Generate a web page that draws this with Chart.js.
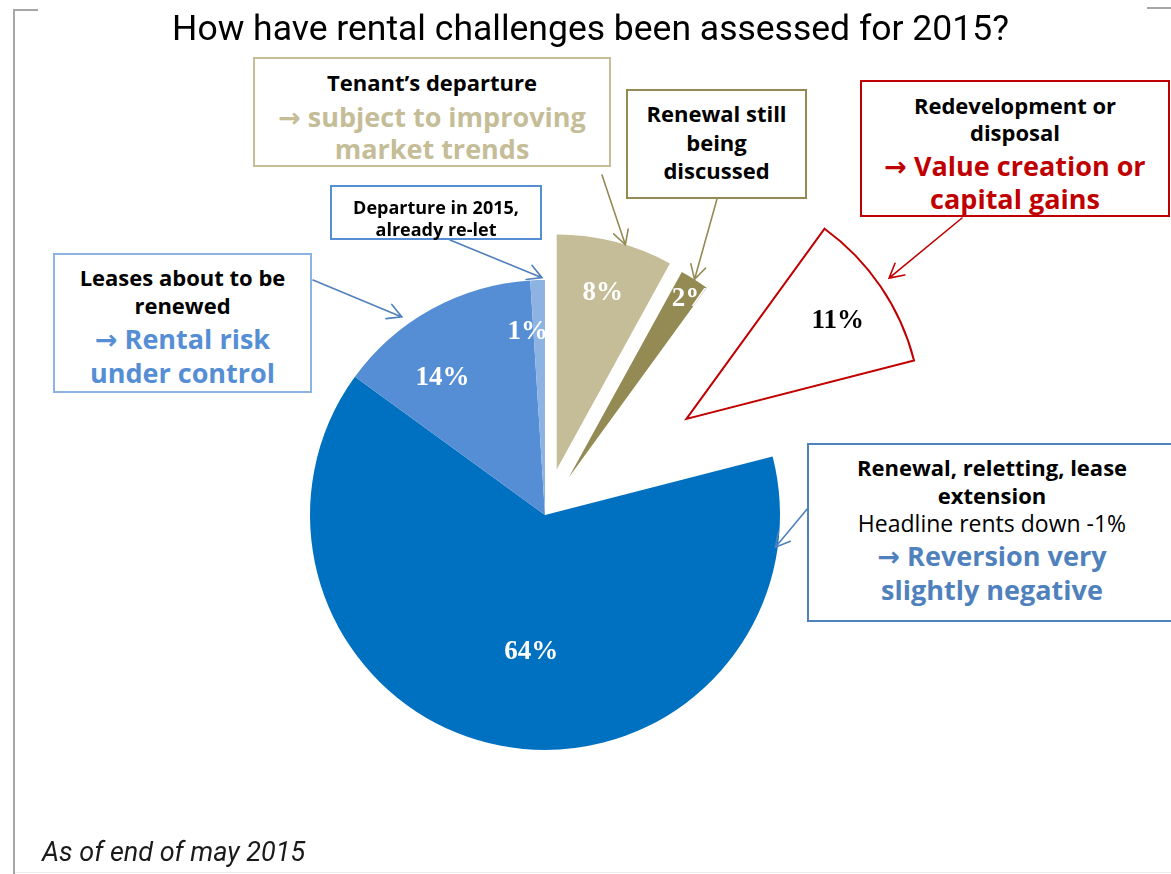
<!DOCTYPE html>
<html>
<head>
<meta charset="utf-8">
<title>How have rental challenges been assessed for 2015?</title>
<script src="https://cdn.jsdelivr.net/npm/chart.js@4.4.1/dist/chart.umd.min.js"></script>
<style>
  html, body { margin: 0; padding: 0; background: #fff; }
  #wrap { position: relative; width: 1171px; height: 874px; overflow: hidden; background: #fff; }
  #pie { position: absolute; left: 0; top: 0; }
  .rule { position: absolute; background: #a6a6a6; }
  #title {
    position: absolute; left: 90px; width: 1001px; top: 6px;
    text-align: center; white-space: nowrap;
    font-family: Roboto, "Noto Sans", sans-serif; font-size: 35.5px; line-height: 44px; color: #000;
  }
  #note {
    position: absolute; left: 42px; top: 835px; white-space: nowrap;
    font-family: Roboto, "Noto Sans", sans-serif; font-style: italic; font-size: 27px; line-height: 34px; color: #1a1a1a;
  }
  .box { position: absolute; box-sizing: border-box; border: 2px solid #000; background: #fff; }
  .line {
    position: absolute; left: 0; right: 0; text-align: center; white-space: nowrap;
    font-family: "Open Sans", "DejaVu Sans", sans-serif;
  }
</style>
</head>
<body>
<div id="wrap">
  <canvas id="pie" width="1171" height="874"></canvas>
  <div class="rule" style="left:13px;top:9px;width:2px;height:865px;"></div>
  <div class="rule" style="left:13px;top:9px;width:25px;height:2px;"></div>
  <div class="rule" style="left:1147px;top:7px;width:24px;height:2px;"></div>
  <div class="rule" style="left:15px;top:872px;width:1156px;height:1px;background:#ececec;"></div>
  <div id="title">How have rental challenges been assessed for 2015?</div>
  <div id="note">As of end of may 2015</div>
</div>
<script>
// ---- data -------------------------------------------------------------
const categories = [
  'Tenant’s departure',
  'Renewal still being discussed',
  'Redevelopment or disposal',
  'Renewal, reletting, lease extension',
  'Leases about to be renewed',
  'Departure in 2015, already re-let'
];
const shares = [8, 2, 11, 64, 14, 1];   // % of rental base

// ---- slice styling ------------------------------------------------------
const sliceFill        = ['#C4BD97', '#948A54', '#FFFFFF', '#0070C0', '#558ED5', '#8DB3E2'];
const sliceBorder      = ['#C4BD97', '#948A54', '#C00000', '#0070C0', '#558ED5', '#8DB3E2'];
const sliceBorderWidth = [0, 0, 2, 0, 0, 0];
const explodeBy        = [47, 44, 171, 0, 0, 0];          // px pulled out along the mid-angle
const labelColor       = ['#fff', '#fff', '#000', '#fff', '#fff', '#fff'];
// label placement: t = fraction across the slice angle, r = fraction of radius
const labelPlace = [
  { t: 0.51, r: 0.775 },
  { t: 0.80, r: 0.925 },
  { t: 0.535, r: 0.766 },
  { t: 0.478, r: 0.587 },
  { t: 0.341, r: 0.728 },
  { t: -0.50, r: 0.78 }
];

// ---- callout boxes -------------------------------------------------------
const TXT = {
  k:     'font-weight:700;font-size:22px;color:#000;',
  ks:    'font-weight:700;font-size:18px;color:#000;',
  kn:    'font-weight:400;font-size:23px;color:#000;',
  tan:   'font-weight:700;font-size:27px;color:#C4BD97;',
  red:   'font-weight:700;font-size:27px;color:#C00000;',
  blue:  'font-weight:700;font-size:27px;color:#558ED5;',
  blue2: 'font-weight:700;font-size:27px;color:#4F81BD;'
};
const callouts = [
  { rect: [253, 57, 611, 167], border: '#C4BD97', arrow: '#948A54', from: [602, 175], to: { i: 0, t: 0.59, r: 1.0 },
    lines: [['Tenant’s departure', 'k', 82], ['→ subject to improving', 'tan', 116], ['market trends', 'tan', 148]] },
  { rect: [626, 89, 807, 199], border: '#948A54', arrow: '#948A54', from: [717, 199], to: { i: 1, t: 0.5, r: 1.0 },
    lines: [['Renewal still', 'k', 113], ['being', 'k', 142], ['discussed', 'k', 170]] },
  { rect: [860, 80, 1170, 217], border: '#C00000', arrow: '#C00000', from: [962, 218], to: { i: 2, t: 0.485, r: 1.05 },
    lines: [['Redevelopment or', 'k', 105], ['disposal', 'k', 132], ['→ Value creation or', 'red', 165], ['capital gains', 'red', 198]] },
  { rect: [330, 185, 542, 240], border: '#558ED5', arrow: '#4F81BD', from: [450, 240], to: { i: 5, t: 0.8, r: 1.01 },
    lines: [['Departure in 2015,', 'ks', 207], ['already re-let', 'ks', 229]] },
  { rect: [53, 253, 312, 393], border: '#8DB3E2', arrow: '#4F81BD', from: [313, 280], to: { i: 4, t: 0.36, r: 1.04 },
    lines: [['Leases about to be', 'k', 277], ['renewed', 'k', 305], ['→ Rental risk', 'blue', 338], ['under control', 'blue', 372]] },
  { rect: [807, 443, 1177, 622], border: '#4F81BD', arrow: '#4F81BD', from: [808, 508], to: { i: 3, t: 0.097, r: 0.99 },
    lines: [['Renewal, reletting, lease', 'k', 467], ['extension', 'k', 495], ['Headline rents down -1%', 'kn', 523],
            ['→ Reversion very', 'blue2', 555], ['slightly negative', 'blue2', 589]] }
];

// build the boxes as positioned HTML text
const wrap = document.getElementById('wrap');
callouts.forEach(c => {
  const [x0, y0, x1, y1] = c.rect;
  const bw = 2;
  const box = document.createElement('div');
  box.className = 'box';
  box.style.cssText = `left:${x0}px;top:${y0}px;width:${x1 - x0}px;height:${y1 - y0}px;border-color:${c.border};`;
  c.lines.forEach(([text, kind, cy]) => {
    const fs = parseFloat(TXT[kind].match(/font-size:(\d+)/)[1]);
    const el = document.createElement('div');
    el.className = 'line';
    el.textContent = text;
    el.style.cssText = TXT[kind] + `line-height:${fs}px;height:${fs}px;top:${cy - y0 - bw - fs / 2}px;`;
    box.appendChild(el);
  });
  wrap.appendChild(box);
});

// ---- plugins -------------------------------------------------------------
// pull selected slices outward along their mid-angle
const explodePlugin = {
  id: 'explode',
  afterDatasetsUpdate(chart) {
    chart.getDatasetMeta(0).data.forEach((arc, i) => {
      const d = explodeBy[i] || 0;
      if (!d) return;
      const mid = (arc.startAngle + arc.endAngle) / 2;
      arc.x += Math.cos(mid) * d;
      arc.y += Math.sin(mid) * d;
    });
  }
};

function pointOnArc(arc, t, r) {
  const a = arc.startAngle + t * (arc.endAngle - arc.startAngle);
  const rad = r * arc.outerRadius;
  return [arc.x + Math.cos(a) * rad, arc.y + Math.sin(a) * rad];
}

// percentage labels, clipped at the trailing edge of narrow slices
const sliceLabelPlugin = {
  id: 'sliceLabels',
  afterDatasetsDraw(chart) {
    const ctx = chart.ctx;
    const arcs = chart.getDatasetMeta(0).data;
    arcs.forEach((arc, i) => {
      const p = labelPlace[i];
      const [x, y] = pointOnArc(arc, p.t, p.r);
      ctx.save();
      if (arc.circumference < Math.PI) {
        ctx.translate(arc.x, arc.y);
        ctx.rotate(arc.endAngle);
        ctx.beginPath();
        ctx.rect(-3000, -3000, 6000, 3000);
        ctx.clip();
        ctx.rotate(-arc.endAngle);
        ctx.translate(-arc.x, -arc.y);
      }
      ctx.font = 'bold 27px "Liberation Serif", "DejaVu Serif", serif';
      ctx.textAlign = 'center';
      ctx.textBaseline = 'middle';
      ctx.fillStyle = labelColor[i];
      ctx.fillText(shares[i] + '%', x, y);
      ctx.restore();
    });
  }
};

// leader lines with open arrowheads from each box to its slice
const calloutArrowPlugin = {
  id: 'calloutArrows',
  afterDraw(chart) {
    const ctx = chart.ctx;
    const arcs = chart.getDatasetMeta(0).data;
    callouts.forEach(c => {
      const arc = arcs[c.to.i];
      const [tx, ty] = pointOnArc(arc, c.to.t, c.to.r);
      const [fx, fy] = c.from;
      const ang = Math.atan2(ty - fy, tx - fx);
      const head = 16, spread = 0.5;
      ctx.save();
      ctx.strokeStyle = c.arrow;
      ctx.lineWidth = 1.6;
      ctx.lineCap = 'round';
      ctx.beginPath();
      ctx.moveTo(fx, fy);
      ctx.lineTo(tx, ty);
      ctx.moveTo(tx - head * Math.cos(ang - spread), ty - head * Math.sin(ang - spread));
      ctx.lineTo(tx, ty);
      ctx.lineTo(tx - head * Math.cos(ang + spread), ty - head * Math.sin(ang + spread));
      ctx.stroke();
      ctx.restore();
    });
  }
};

// ---- chart ---------------------------------------------------------------
new Chart(document.getElementById('pie'), {
  type: 'pie',
  data: {
    labels: categories,
    datasets: [{
      data: shares,
      backgroundColor: sliceFill,
      borderColor: sliceBorder,
      borderWidth: sliceBorderWidth,
      borderJoinStyle: 'miter',
      radius: 235
    }]
  },
  options: {
    responsive: false,
    animation: false,
    events: [],
    layout: { padding: { top: 156, right: 81, bottom: 0, left: 0 } },
    plugins: {
      legend: { display: false },
      tooltip: { enabled: false },
      title: { display: false }
    }
  },
  plugins: [explodePlugin, sliceLabelPlugin, calloutArrowPlugin]
});
</script>
</body>
</html>
